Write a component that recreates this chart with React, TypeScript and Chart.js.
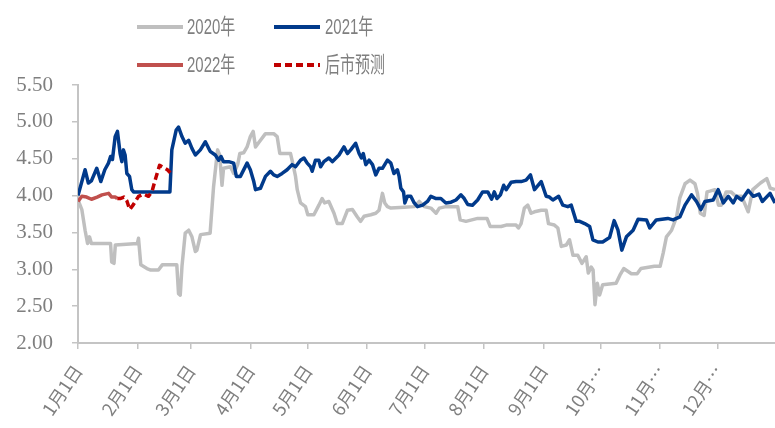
import React, { useEffect, useRef } from 'react';
import { Chart, registerables } from 'chart.js';

Chart.register(...registerables);

// ---- axis data ----
const monthStarts = [0, 31, 59, 90, 120, 151, 181, 212, 243, 273, 304, 334];
const monthLabels = ['1月1日', '2月1日', '3月1日', '4月1日', '5月1日', '6月1日', '7月1日', '8月1日', '9月1日', '10月…', '11月…', '12月…'];
const yMin = 2.0;
const yMax = 5.5;
const yStep = 0.5;

// ---- series data (day of year, value) ----
const days2020 = [0, 2, 3.7, 5, 6, 7, 17, 17.6, 18.8, 19.5, 31, 31.6, 32.8, 36, 38, 42, 44, 51.6, 52.5, 53.4, 54.3, 56, 57.8, 59.5, 61.3, 62.1, 64, 69, 70.8, 72.9, 74, 75.2, 76, 79.6, 81.3, 83.4, 84.5, 86.5, 88.3, 90, 91.5, 92.7, 95.3, 97.9, 102.2, 104, 105.4, 111, 112.3, 113.6, 114.5, 116.2, 118.8, 120, 123.2, 125.8, 127.5, 128.8, 131, 133.7, 135.4, 138, 140.7, 143.3, 145.9, 147.6, 149.4, 152.9, 155.5, 157.2, 159, 160.2, 161.6, 163.4, 170.3, 175.6, 178.2, 180.8, 184.3, 187, 188.7, 192.1, 198.3, 199.6, 202.6, 208.7, 213.6, 215.3, 221, 223.6, 228.8, 230, 231.4, 233.1, 234.9, 236.6, 238.4, 241.9, 244.5, 245.7, 248.8, 250.6, 252.4, 255, 256.7, 258.5, 261, 263.2, 265.4, 266.5, 268, 269, 270, 271.2, 272.4, 274, 281, 283, 285, 289, 292, 294, 301, 304, 305.6, 307.3, 310, 312.6, 314.3, 317, 319.6, 322.2, 323.5, 325, 327, 328.5, 330, 332.6, 334.5, 336, 338.5, 341, 343.5, 346.6, 350, 352.4, 356.4, 359.7, 361.5, 364];
const values2020 = [3.94, 3.81, 3.53, 3.35, 3.44, 3.35, 3.35, 3.10, 3.08, 3.33, 3.35, 3.42, 3.06, 3.01, 2.99, 2.99, 3.06, 3.06, 2.67, 2.65, 3.04, 3.49, 3.53, 3.44, 3.24, 3.26, 3.47, 3.49, 4.12, 4.62, 4.55, 4.14, 4.37, 4.39, 4.30, 4.42, 4.57, 4.58, 4.66, 4.80, 4.87, 4.66, 4.75, 4.84, 4.84, 4.80, 4.57, 4.57, 4.42, 4.26, 4.08, 3.90, 3.85, 3.74, 3.74, 3.87, 3.96, 3.90, 3.92, 3.76, 3.62, 3.62, 3.80, 3.81, 3.71, 3.65, 3.72, 3.74, 3.76, 3.80, 4.03, 3.90, 3.85, 3.83, 3.84, 3.85, 3.92, 3.85, 3.83, 3.76, 3.83, 3.85, 3.85, 3.67, 3.65, 3.69, 3.69, 3.58, 3.58, 3.60, 3.60, 3.56, 3.62, 3.83, 3.87, 3.76, 3.78, 3.80, 3.80, 3.62, 3.60, 3.56, 3.31, 3.33, 3.40, 3.19, 3.19, 3.08, 3.17, 2.95, 3.03, 2.99, 2.52, 2.81, 2.65, 2.79, 2.81, 2.92, 3.01, 2.94, 2.94, 3.01, 3.04, 3.04, 3.22, 3.44, 3.53, 3.71, 3.97, 4.16, 4.21, 4.16, 4.03, 3.76, 3.73, 4.05, 4.06, 4.08, 3.87, 3.87, 4.05, 4.05, 3.99, 3.99, 3.78, 4.08, 4.17, 4.23, 4.10, 4.08];

const days2021 = [0, 3.7, 5.4, 7, 9.8, 11.9, 14, 15.9, 17, 18, 19.4, 20.6, 22, 22.9, 23.7, 24.6, 25.5, 26.9, 28.1, 29, 36, 48, 49, 51.3, 52.5, 54.3, 56, 57.8, 59.5, 61.3, 63.9, 66.5, 69, 71.7, 73.5, 74.7, 76, 78.7, 81.3, 82.7, 84.8, 88.3, 90, 91.8, 92.7, 95.3, 97.9, 100.5, 102.2, 104, 106.6, 109.2, 111.8, 113.6, 116.2, 118, 119.7, 121.5, 122.3, 124, 125.8, 126.7, 128.4, 131, 132.8, 136.3, 138.9, 140.7, 142.4, 145, 146.8, 148, 149, 150.3, 152, 153.8, 155.5, 157.2, 159, 161.6, 163.4, 165, 166.8, 167.7, 168.6, 170, 170.7, 172, 173.8, 175.6, 177.3, 180, 182.5, 184.3, 187, 189.5, 192.1, 194.8, 197.4, 200, 201.7, 203.5, 206, 208.7, 211.3, 214, 216, 217.4, 218.8, 220.6, 222.3, 223.6, 226.2, 228.8, 231.4, 234, 236.3, 238.4, 241.9, 244.5, 246.2, 248, 251, 253.2, 255.8, 257.6, 260.2, 262, 264.6, 267.2, 268.9, 271.5, 274, 277.6, 280, 282, 284, 286.4, 289.9, 292.5, 296.9, 298.6, 302, 308, 310.8, 314.3, 317, 320.4, 323, 325.3, 327.4, 331.7, 334.3, 337, 339.6, 342.2, 344, 346.6, 350, 352.7, 355.6, 357.4, 361.4, 364];
const values2021 = [4.00, 4.35, 4.17, 4.20, 4.37, 4.19, 4.35, 4.44, 4.53, 4.49, 4.80, 4.87, 4.57, 4.46, 4.62, 4.55, 4.30, 4.26, 4.08, 4.05, 4.05, 4.05, 4.62, 4.89, 4.93, 4.80, 4.71, 4.75, 4.64, 4.55, 4.62, 4.73, 4.60, 4.55, 4.48, 4.53, 4.46, 4.46, 4.44, 4.26, 4.26, 4.44, 4.35, 4.19, 4.08, 4.10, 4.26, 4.33, 4.28, 4.26, 4.30, 4.35, 4.42, 4.39, 4.48, 4.51, 4.44, 4.39, 4.33, 4.48, 4.48, 4.39, 4.46, 4.51, 4.46, 4.55, 4.66, 4.57, 4.62, 4.71, 4.57, 4.51, 4.57, 4.42, 4.48, 4.42, 4.28, 4.37, 4.37, 4.48, 4.44, 4.30, 4.35, 4.26, 4.10, 4.05, 3.90, 3.99, 3.99, 3.90, 3.85, 3.87, 3.92, 3.99, 3.96, 3.96, 3.90, 3.91, 3.94, 4.01, 3.96, 3.88, 3.87, 3.94, 4.05, 4.05, 3.95, 4.05, 3.96, 4.01, 4.14, 4.08, 4.18, 4.19, 4.19, 4.21, 4.28, 4.08, 4.19, 3.99, 3.98, 3.94, 3.99, 3.87, 3.85, 3.87, 3.65, 3.65, 3.62, 3.58, 3.40, 3.37, 3.37, 3.43, 3.66, 3.53, 3.26, 3.44, 3.53, 3.68, 3.67, 3.56, 3.67, 3.69, 3.67, 3.71, 3.87, 4.01, 3.92, 3.81, 3.92, 3.94, 4.08, 3.90, 3.99, 3.90, 3.99, 3.94, 4.07, 3.99, 4.02, 3.92, 4.03, 3.90];

const days2022 = [0, 2, 4.5, 7, 10, 12.5, 16, 17.6, 19.4, 20.5];
const values2022 = [3.92, 3.99, 3.98, 3.95, 3.98, 4.01, 4.03, 3.98, 3.98, 3.96];

const daysForecast = [20.5, 22, 24, 25.5, 27, 29, 31.6, 34.2, 36.8, 38.6, 40.3, 42.6, 44.7, 46.7, 48.2];
const valuesForecast = [3.96, 3.96, 3.98, 3.93, 3.81, 3.88, 3.99, 4.02, 3.99, 4.05, 4.21, 4.41, 4.38, 4.35, 4.31];

const seriesLabels = ['2020年', '2021年', '2022年', '后市预测'];

const toPoints = (d: number[], v: number[]) => d.map((x, i) => ({ x, y: v[i] }));

const AXIS_GRAY = '#C4C4C4';
const TEXT_GRAY = '#7F7F7F';

const legendPlugin = {
  id: 'customLegend',
  afterDraw(chart: any) {
    const ctx = chart.ctx as CanvasRenderingContext2D;
    const slots = [
      { x1: 137, x2: 183, tx: 187, y: 27 },
      { x1: 274, x2: 320, tx: 325, y: 27 },
      { x1: 137, x2: 183, tx: 187, y: 65 },
      { x1: 274, x2: 320, tx: 325, y: 65 },
    ];
    chart.data.datasets.forEach((ds: any, i: number) => {
      const s = slots[i];
      if (!s) return;
      ctx.save();
      ctx.strokeStyle = ds.borderColor;
      ctx.lineWidth = 4;
      ctx.setLineDash(ds.borderDash || []);
      ctx.beginPath();
      ctx.moveTo(s.x1, s.y);
      ctx.lineTo(s.x2, s.y);
      ctx.stroke();
      ctx.restore();
      ctx.save();
      ctx.fillStyle = TEXT_GRAY;
      ctx.font = '22px "Liberation Sans", "Noto Sans CJK SC", sans-serif';
      ctx.textBaseline = 'middle';
      ctx.textAlign = 'left';
      ctx.translate(s.tx, s.y + 1);
      ctx.scale(0.68, 1);
      ctx.fillText(ds.label, 0, 0);
      ctx.restore();
    });
  },
};

export default function App() {
  const ref = useRef<HTMLCanvasElement | null>(null);

  useEffect(() => {
    if (!ref.current) return;
    const chart = new Chart(ref.current, {
      type: 'line',
      data: {
        datasets: [
          {
            label: seriesLabels[0],
            data: toPoints(days2020, values2020),
            borderColor: '#BFBFBF',
            borderWidth: 3.5,
            order: 4,
          },
          {
            label: seriesLabels[1],
            data: toPoints(days2021, values2021),
            borderColor: '#013A8B',
            borderWidth: 3.5,
            order: 3,
          },
          {
            label: seriesLabels[2],
            data: toPoints(days2022, values2022),
            borderColor: '#C0504D',
            borderWidth: 3.5,
            order: 2,
          },
          {
            label: seriesLabels[3],
            data: toPoints(daysForecast, valuesForecast),
            borderColor: '#C00000',
            borderWidth: 3.5,
            borderDash: [7, 4],
            order: 1,
          },
        ],
      },
      options: {
        responsive: false,
        animation: false,
        parsing: true,
        elements: {
          point: { radius: 0, hoverRadius: 0 },
          line: { tension: 0, borderJoinStyle: 'round', borderCapStyle: 'butt' },
        },
        layout: { padding: { top: 85, left: 8, right: 0, bottom: 0 } },
        plugins: {
          legend: { display: false },
          tooltip: { enabled: false },
        },
        scales: {
          x: {
            type: 'linear',
            min: 0,
            max: 364,
            afterBuildTicks: (scale: any) => {
              scale.ticks = monthStarts.map((v) => ({ value: v }));
            },
            afterFit: (scale: any) => {
              scale.height = 85;
            },
            grid: {
              display: true,
              drawOnChartArea: false,
              drawTicks: true,
              tickLength: 6,
              color: AXIS_GRAY,
              lineWidth: 1.5,
            },
            border: { display: true, color: AXIS_GRAY, width: 2 },
            ticks: {
              autoSkip: false,
              minRotation: 56,
              maxRotation: 56,
              padding: 12,
              color: TEXT_GRAY,
              font: { family: '"Noto Sans CJK SC", sans-serif', size: 18 },
              callback: (_v: any, i: number) => monthLabels[i],
            },
          },
          y: {
            type: 'linear',
            min: yMin,
            max: yMax,
            afterFit: (scale: any) => {
              scale.width = 70;
            },
            grid: {
              display: true,
              drawOnChartArea: false,
              drawTicks: true,
              tickLength: 6,
              color: AXIS_GRAY,
              lineWidth: 1.5,
            },
            border: { display: true, color: AXIS_GRAY, width: 2 },
            ticks: {
              stepSize: yStep,
              padding: 19,
              color: TEXT_GRAY,
              font: { family: '"Liberation Serif", "Times New Roman", serif', size: 21 },
              callback: (v: any) => Number(v).toFixed(2),
            },
          },
        },
      },
      plugins: [legendPlugin],
    });
    return () => chart.destroy();
  }, []);

  return (
    <div style={{ position: 'fixed', left: 0, top: 0, width: 775, height: 428, background: '#fff' }}>
      <canvas ref={ref} width={775} height={428} style={{ display: 'block', width: 775, height: 428 }} />
    </div>
  );
}
